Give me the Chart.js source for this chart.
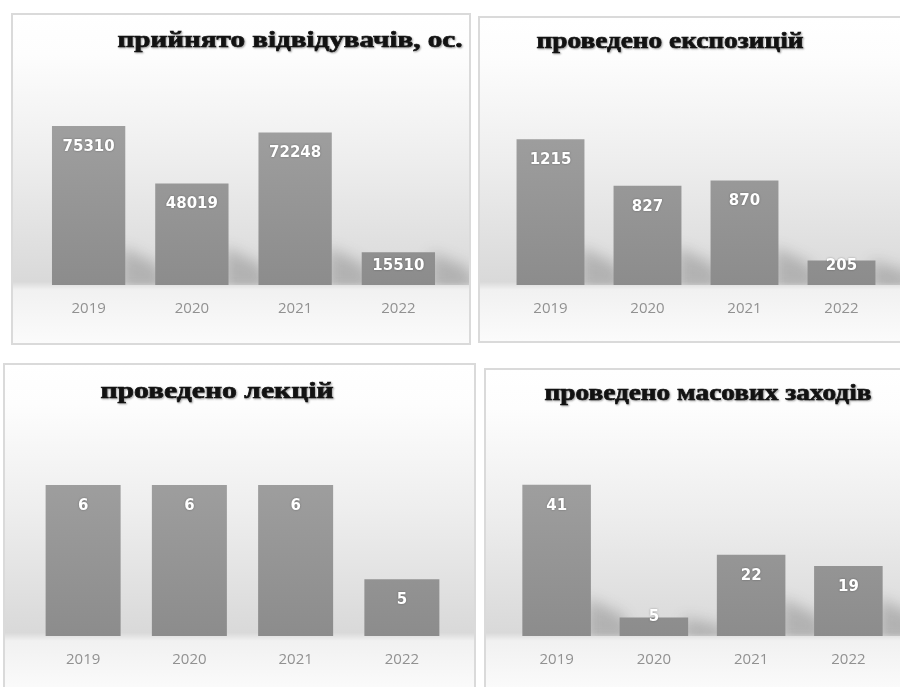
<!DOCTYPE html>
<html lang="uk">
<head>
<meta charset="utf-8">
<title>Показники роботи музею 2019–2022</title>
<script src="https://cdn.jsdelivr.net/npm/chart.js@4.4.1/dist/chart.umd.min.js"></script>
<style>
  html, body { margin: 0; padding: 0; background: #ffffff; }
  body { width: 900px; height: 687px; position: relative; overflow: hidden; }
  .panel { position: absolute; border: 2px solid #dadada; box-sizing: border-box; }
  .panel canvas { display: block; }
</style>
</head>
<body>
<div class="panel" style="left:11px; top:13px; width:460px; height:332px;"><canvas id="visitors" width="456" height="328"></canvas></div>
<div class="panel" style="left:478px; top:16px; width:424px; height:327px;"><canvas id="exhibitions" width="420" height="323"></canvas></div>
<div class="panel" style="left:3px; top:363px; width:473px; height:330px;"><canvas id="lectures" width="469" height="326"></canvas></div>
<div class="panel" style="left:484px; top:368px; width:418px; height:325px;"><canvas id="events" width="414" height="321"></canvas></div>

<script>
// data
const years = ["2019", "2020", "2021", "2022"];
const visitors = [75310, 48019, 72248, 15510];
const exhibitions = [1215, 827, 870, 205];
const lectures = [6, 6, 6, 5];
const massEvents = [41, 5, 22, 19];

const titleVisitors = "прийнято відвідувачів, ос.";
const titleExhibitions = "проведено експозицій";
const titleLectures = "проведено лекцій";
const titleEvents = "проведено масових заходів";

// panel background: white on top, grey "floor" just above the axis
const backdrop = {
  id: "backdrop",
  beforeDraw(chart) {
    const { ctx, width, height, chartArea } = chart;
    const b = chartArea.bottom / height;
    const g = ctx.createLinearGradient(0, 0, 0, height);
    g.addColorStop(0, "#ffffff");
    g.addColorStop(0.12, "#fdfdfd");
    g.addColorStop(b * 0.55, "#ededed");
    g.addColorStop(b - 0.01, "#d9d9d9");
    g.addColorStop(Math.min(b + 0.015, 1), "#f1f1f1");
    g.addColorStop(1, "#fbfbfb");
    ctx.save();
    ctx.fillStyle = g;
    ctx.fillRect(0, 0, width, height);
    ctx.restore();
  },
};

// soft perspective shadow at the foot of every bar
const barShadow = {
  id: "barShadow",
  beforeDatasetsDraw(chart) {
    const { ctx, chartArea } = chart;
    ctx.save();
    ctx.beginPath();
    ctx.rect(chartArea.left, chartArea.top, chartArea.right - chartArea.left + 30, chartArea.bottom - chartArea.top);
    ctx.clip();
    ctx.filter = "blur(7px)";
    ctx.fillStyle = "rgba(60,60,60,0.26)";
    chart.getDatasetMeta(0).data.forEach((bar) => {
      const r = bar.x + bar.width / 2;
      const s = Math.min(bar.base - bar.y, 38);
      ctx.beginPath();
      ctx.moveTo(r - 4, bar.base + 4);
      ctx.lineTo(r - 4, bar.base - s);
      ctx.lineTo(r + 32, bar.base - s * 0.55);
      ctx.lineTo(r + 42, bar.base + 4);
      ctx.closePath();
      ctx.fill();
    });
    ctx.restore();
  },
};

// white value labels near the top inside each bar
const valueLabels = {
  id: "valueLabels",
  afterDatasetsDraw(chart) {
    const { ctx } = chart;
    const values = chart.data.datasets[0].data;
    ctx.save();
    ctx.font = "bold 15px 'DejaVu Sans'";
    ctx.fillStyle = "#ffffff";
    ctx.textAlign = "center";
    ctx.textBaseline = "middle";
    ctx.shadowColor = "rgba(0,0,0,0.35)";
    ctx.shadowBlur = 2;
    chart.getDatasetMeta(0).data.forEach((bar, i) => {
      const y = Math.min(bar.y + 21, bar.base - 19);
      ctx.fillText(String(values[i]), bar.x, y);
    });
    ctx.restore();
  },
};

// heavy serif heading placed freely inside the panel, fitted to a set width
const heading = {
  id: "heading",
  afterDraw(chart, args, opts) {
    const { ctx } = chart;
    ctx.save();
    ctx.font = "bold " + opts.size + "px 'Liberation Serif'";
    ctx.fillStyle = "#141414";
    ctx.strokeStyle = "#141414";
    ctx.lineWidth = 0.7;
    ctx.textAlign = "center";
    ctx.textBaseline = "alphabetic";
    ctx.shadowColor = "rgba(0,0,0,0.3)";
    ctx.shadowBlur = 2;
    ctx.shadowOffsetX = 1;
    ctx.shadowOffsetY = 1;
    const w = ctx.measureText(opts.text).width;
    const sx = opts.width ? opts.width / w : 1;
    ctx.translate(opts.x, opts.y);
    ctx.scale(sx, 1);
    ctx.fillText(opts.text, 0, 0);
    ctx.strokeText(opts.text, 0, 0);
    ctx.restore();
  },
};

function barFill(ctx) {
  const area = ctx.chart.chartArea;
  if (!area) return "#959595";
  const g = ctx.chart.ctx.createLinearGradient(0, area.top, 0, area.bottom);
  g.addColorStop(0, "#a0a0a0");
  g.addColorStop(1, "#8c8c8c");
  return g;
}

function makeChart(id, values, o) {
  const canvas = document.getElementById(id);
  return new Chart(canvas.getContext("2d"), {
    type: "bar",
    data: {
      labels: years,
      datasets: [
        {
          data: values,
          backgroundColor: barFill,
          borderWidth: 0,
          barPercentage: o.bar,
          categoryPercentage: 1,
        },
      ],
    },
    options: {
      responsive: false,
      animation: false,
      layout: { padding: { left: o.left, right: o.right, top: o.top, bottom: 0 } },
      plugins: {
        legend: { display: false },
        tooltip: { enabled: false },
        heading: { text: o.title, x: o.tx, y: o.ty, size: 23, width: o.tw },
      },
      scales: {
        x: {
          grid: { display: false },
          border: { display: false },
          ticks: { color: "#919191", font: { family: "'Open Sans'", size: 15 }, padding: 7 },
          afterFit: (scale) => { scale.height = canvas.height - o.bottom; },
        },
        y: { display: false, min: o.min, max: o.max },
      },
    },
    plugins: [backdrop, barShadow, valueLabels, heading],
  });
}

makeChart("visitors", visitors, {
  title: titleVisitors, tx: 277, ty: 32, tw: 345,
  left: 24, right: 19, top: 101, bottom: 270, min: 0, max: 80000, bar: 0.71,
});
makeChart("exhibitions", exhibitions, {
  title: titleExhibitions, tx: 190, ty: 30, tw: 267,
  left: 22, right: 10, top: 99, bottom: 267, min: 0, max: 1400, bar: 0.7,
});
makeChart("lectures", lectures, {
  title: titleLectures, tx: 212, ty: 33, tw: 233,
  left: 25, right: 19, top: 101, bottom: 271, min: 4.4, max: 6.2, bar: 0.706,
});
makeChart("events", massEvents, {
  title: titleEvents, tx: 222, ty: 30, tw: 327,
  left: 22, right: 3, top: 100, bottom: 266, min: 0, max: 45, bar: 0.705,
});
</script>
</body>
</html>
